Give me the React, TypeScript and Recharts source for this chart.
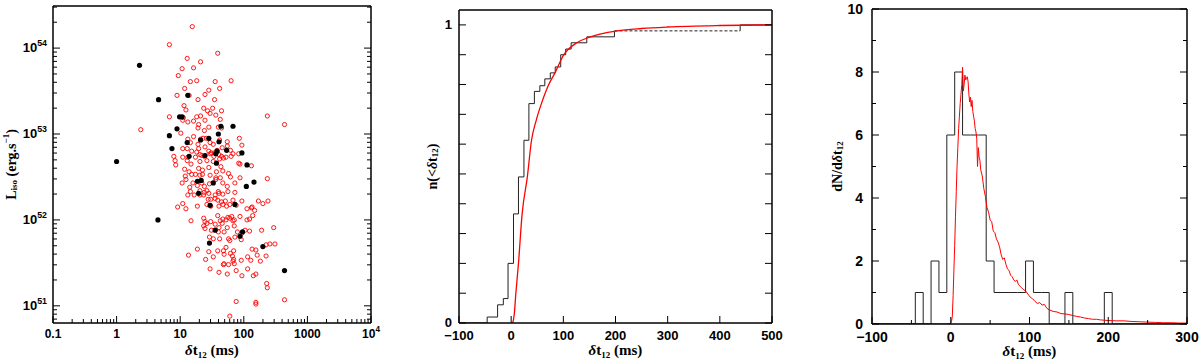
import React from 'react';
import { ComposedChart, Line, Scatter, XAxis, YAxis } from 'recharts';

// left panel, log10 of dt12 (ms) and log10 of L_iso (erg/s)
const blackBursts = [
  [0.36, 53.8], [0.66, 53.4], [0, 52.68], [0.65, 52.0], [0.83, 52.98], [0.87, 52.83],
  [0.95, 53.06], [0.99, 53.2], [1.03, 53.2], [1.12, 53.45], [1.11, 52.9], [1.14, 52.74],
  [1.32, 52.93], [1.45, 52.95], [1.39, 52.75], [1.6, 53.0], [1.64, 53.09], [1.83, 53.09],
  [1.61, 52.91], [1.58, 52.8], [1.56, 52.77], [1.57, 52.66], [1.73, 52.81], [1.97, 52.78],
  [2.05, 52.64], [2.16, 52.44], [2.04, 52.39], [1.27, 52.45], [1.33, 52.46], [1.52, 52.43],
  [1.29, 52.31], [1.47, 52.17], [1.86, 52.18], [1.55, 51.88], [1.98, 51.86], [1.94, 51.81],
  [1.46, 51.73], [2.3, 51.69], [2.64, 51.41],
];

const redBursts = [
  [1.19, 54.25], [0.83, 54.04], [1.59, 53.94], [1.11, 53.88], [1.32, 53.84], [1.03, 53.76],
  [1.21, 53.77], [0.97, 53.68], [1.8, 53.62], [1.16, 53.61], [1.26, 53.62], [1.55, 53.61],
  [1.62, 53.53], [1.07, 53.53], [1.39, 53.46], [1.45, 53.51], [0.95, 53.45], [1.14, 53.45],
  [1.28, 53.4], [1.54, 53.4], [1.06, 53.33], [1.37, 53.3], [1.51, 53.3], [1.09, 53.28],
  [0.83, 53.2], [1.26, 53.2], [1.32, 53.21], [1.43, 53.27], [1.47, 53.24], [1.56, 53.22],
  [1.65, 53.27], [1.63, 53.17], [2.37, 53.21], [0.38, 53.05], [2.64, 53.11], [1.05, 53.19],
  [1.04, 53.16], [1.12, 53.14], [1.21, 53.15], [1.29, 53.11], [1.39, 53.16], [1.45, 53.08],
  [1.28, 53.07], [1.6, 53.08], [1.65, 53.07], [1.01, 53.01], [1.38, 53.04], [1.12, 52.94],
  [1.21, 52.97], [1.32, 52.94], [1.36, 52.95], [1.41, 52.95], [1.47, 52.9], [1.52, 52.88],
  [1.62, 52.93], [1.74, 52.91], [1.74, 52.86], [1.93, 52.95], [1.97, 52.87], [1.16, 52.9],
  [1.28, 52.88], [1.39, 52.85], [1.04, 52.83], [1.11, 52.83], [1.18, 52.8], [1.26, 52.79],
  [1.29, 52.83], [1.45, 52.8], [1.49, 52.78], [1.54, 52.78], [1.58, 52.81], [1.66, 52.84],
  [1.79, 52.81], [1.83, 52.77], [1.92, 52.77], [0.9, 52.74], [1.04, 52.73], [1.12, 52.73],
  [1.24, 52.73], [1.31, 52.76], [1.34, 52.75], [1.38, 52.74], [1.47, 52.77], [1.53, 52.74],
  [1.61, 52.76], [1.65, 52.74], [1.72, 52.73], [1.8, 52.74], [0.92, 52.69], [0.93, 52.64],
  [1.11, 52.69], [1.17, 52.65], [1.31, 52.68], [1.42, 52.69], [1.52, 52.68], [1.62, 52.71],
  [1.68, 52.72], [1.92, 52.66], [1.94, 52.65], [2.12, 52.63], [1.07, 52.59], [1.14, 52.56],
  [1.29, 52.6], [1.35, 52.58], [1.45, 52.61], [1.57, 52.56], [1.64, 52.62], [1.67, 52.57],
  [1.76, 52.54], [1.79, 52.5], [1.94, 52.49], [2.37, 52.48], [1.08, 52.51], [1.09, 52.47],
  [1.18, 52.53], [1.24, 52.53], [1.31, 52.52], [1.35, 52.53], [1.47, 52.52], [1.56, 52.49],
  [1.63, 52.49], [1.03, 52.43], [1.2, 52.43], [1.27, 52.4], [1.34, 52.43], [1.38, 52.39],
  [1.46, 52.42], [1.56, 52.47], [1.67, 52.43], [1.74, 52.39], [1.86, 52.43], [1.15, 52.38],
  [1.16, 52.33], [1.31, 52.34], [1.38, 52.32], [1.42, 52.34], [1.45, 52.31], [1.55, 52.29],
  [1.6, 52.33], [1.61, 52.31], [1.67, 52.3], [1.75, 52.33], [1.86, 52.32], [1.04, 52.19],
  [1.09, 52.13], [1.12, 52.29], [1.22, 52.29], [1.31, 52.29], [1.37, 52.29], [1.44, 52.24],
  [1.48, 52.24], [1.55, 52.25], [1.59, 52.23], [1.65, 52.21], [1.71, 52.22], [1.83, 52.23],
  [1.97, 52.22], [2.13, 52.15], [2.23, 52.22], [2.3, 52.19], [2.38, 52.22], [0.96, 52.15],
  [1.27, 52.16], [1.42, 52.18], [1.48, 52.16], [1.61, 52.16], [1.67, 52.18], [1.73, 52.16],
  [1.78, 52.18], [1.88, 52.17], [2.05, 52.13], [2.12, 52.14], [1.17, 51.99], [1.37, 52.02],
  [1.39, 51.98], [1.42, 51.96], [1.48, 51.98], [1.59, 52.05], [1.63, 51.99], [1.67, 52.01],
  [1.72, 52.0], [1.75, 52.03], [1.78, 52.02], [1.81, 52.04], [1.83, 51.99], [1.85, 52.0],
  [1.94, 52.04], [2.05, 52.0], [2.09, 52.01], [2.14, 52.05], [2.17, 52.11], [2.28, 51.88],
  [2.47, 51.91], [1.37, 51.93], [1.39, 51.9], [1.49, 51.88], [1.55, 51.95], [1.61, 51.91],
  [1.66, 51.96], [1.74, 51.91], [1.85, 51.93], [1.9, 51.86], [1.96, 51.84], [2.02, 51.88],
  [1.46, 51.8], [1.52, 51.78], [1.62, 51.78], [1.76, 51.78], [1.78, 51.76], [1.86, 51.8],
  [1.96, 51.77], [2.09, 51.87], [1.6, 51.86], [1.69, 51.86], [1.27, 51.66], [1.13, 51.59],
  [1.4, 51.54], [1.45, 51.63], [1.52, 51.57], [1.59, 51.64], [1.68, 51.64], [1.72, 51.68],
  [1.79, 51.61], [1.84, 51.64], [2.06, 51.57], [2.13, 51.66], [2.19, 51.65], [2.21, 51.59],
  [2.41, 51.72], [2.35, 51.71], [2.49, 51.72], [1.82, 51.58], [1.69, 51.6], [1.84, 51.54],
  [1.96, 51.53], [2.11, 51.53], [2.26, 51.52], [2.35, 51.58], [1.69, 51.49], [1.76, 51.48],
  [1.85, 51.49], [1.83, 51.52], [1.47, 51.43], [1.61, 51.39], [1.68, 51.48], [1.74, 51.37],
  [1.88, 51.41], [2.06, 51.43], [2.15, 51.35], [2.19, 51.37], [1.97, 51.35], [2.36, 51.26],
  [2.37, 51.21], [1.88, 51.05], [2.19, 51.04], [2.19, 51.02], [2.64, 51.07], [1.78, 50.88],
];

// middle panel: cumulative fraction (last stretch at 0.98 is dashed in the original)
const cdfX = [-100, -46, -26, -15, -6, 4.5, 14, 24.5, 34, 44.5, 55, 64.5, 75, 84.5, 95, 104.5, 115, 145, 198];
const cdfY = [0, 0.02, 0.061, 0.082, 0.2, 0.366, 0.49, 0.613, 0.736, 0.777, 0.796, 0.819, 0.839, 0.859, 0.9, 0.919, 0.94, 0.96, 0.98];
const cdfTailX = [198, 439];
const cdfTailY = [0.98, 0.98];
const cdfLastX = [439, 439, 500];
const cdfLastY = [0.98, 1, 1];
const cdfModel = [
  [3, 0], [6, 0.03], [9, 0.1], [14, 0.2], [21, 0.366], [31, 0.49], [39, 0.613], [48, 0.68],
  [58, 0.736], [71, 0.796], [84, 0.839], [101, 0.9], [126, 0.94], [152, 0.96], [203, 0.98],
  [250, 0.988], [300, 0.993], [400, 0.998], [500, 1],
];

// right panel: histogram (10 ms bins) and model density
const histEdges = [-100, -45, -35, -25, -15, -5, 5, 15, 25, 35, 45, 55, 65, 75, 85, 95, 105, 115, 125, 135, 145, 155, 165, 175, 185, 195, 205, 300];
const histCounts = [0, 1, 0, 2, 1, 6, 8, 6, 6, 6, 2, 1, 1, 1, 1, 2, 1, 1, 0, 0, 1, 0, 0, 0, 0, 1, 0, 0];
const densityModel = [
  [-100, 0], [-80, 0.01], [-60, 0], [-40, 0.01], [-20, 0], [-5, 0], [0, 0.02], [1, 0.08],
  [2, 0.25], [3, 0.9], [4, 1.7], [5, 2.5], [6, 3.4], [7, 4.2], [8, 5.0], [9, 5.6], [10, 6.2],
  [11, 6.6], [12, 7.0], [13, 7.3], [14, 7.6], [15, 8.15], [16, 7.4], [17, 7.6], [18, 7.9],
  [19, 7.75], [20, 7.8], [21, 7.85], [22, 7.7], [23, 7.3], [24, 7.05], [25, 7.2], [26, 6.9],
  [27, 7.1], [28, 6.75], [29, 6.6], [30, 6.45], [31, 6.2], [32, 6.1], [33, 5.9], [34, 5.0],
  [35, 5.6], [36, 5.3], [37, 5.2], [38, 4.9], [40, 4.7], [42, 4.3], [44, 4.05], [46, 3.7],
  [48, 3.55], [50, 3.3], [52, 3.25], [54, 2.95], [56, 2.9], [58, 2.7], [60, 2.6], [62, 2.45],
  [64, 2.2], [66, 2.05], [68, 2.1], [70, 1.9], [72, 1.75], [74, 1.7], [76, 1.55], [78, 1.5],
  [80, 1.4], [82, 1.35], [84, 1.4], [86, 1.25], [88, 1.2], [90, 1.15], [92, 1.1], [95, 1.05],
  [98, 0.95], [101, 0.85], [104, 0.8], [107, 0.72], [110, 0.65], [113, 0.68], [116, 0.6],
  [119, 0.62], [122, 0.5], [125, 0.45], [130, 0.4], [135, 0.38], [140, 0.33], [145, 0.32],
  [150, 0.3], [155, 0.27], [160, 0.24], [165, 0.22], [170, 0.19], [175, 0.17], [180, 0.15],
  [185, 0.15], [190, 0.13], [195, 0.12], [200, 0.11], [210, 0.1], [220, 0.1], [230, 0.08],
  [240, 0.07], [250, 0.06], [260, 0.05], [270, 0.04], [280, 0.04], [290, 0.03], [300, 0.03],
];

// ticks
const timeMajors = [-1, 0, 1, 2, 3, 4];
const timeLabels = ['0.1', '1', '10', '100', '1000', '10^4'];
const lumMajors = [51, 52, 53, 54];
const lumLabels = ['10^51', '10^52', '10^53', '10^54'];
const logMinor = (from: number, to: number) => {
  const out: number[] = [];
  for (let n = from; n < to; n++) for (let k = 2; k < 10; k++) out.push(n + Math.log10(k));
  return out;
};
const cdfXTicks = [-100, 0, 100, 200, 300, 400, 500];
const cdfYTicks = [0, 0.1, 0.2, 0.3, 0.4, 0.5, 0.6, 0.7, 0.8, 0.9, 1];
const histXTicks = [-100, -50, 0, 50, 100, 150, 200, 250, 300];
const histXMajors = [-100, 0, 100, 200, 300];
const histYTicks = [0, 1, 2, 3, 4, 5, 6, 7, 8, 9, 10];
const histYMajors = [0, 2, 4, 6, 8, 10];

const TICK_FONT = '"Liberation Sans", Arial, sans-serif';
const TITLE_FONT = '"Liberation Serif", "Times New Roman", serif';

const toPts = (a: number[][]) => a.map(([x, y]) => ({ x, y }));
const zipPts = (xs: number[], ys: number[]) => xs.map((x, i) => ({ x, y: ys[i] }));

const fmt = (s: string, fs: number) => {
  const txt = s.replace('-', '\u2212');
  if (!txt.includes('^')) return txt;
  const [b, e] = txt.split('^');
  return (
    <>
      <tspan>{b}</tspan>
      <tspan dy={-6} fontSize={fs * 0.68}>{e}</tspan>
    </>
  );
};

type TickOpts = {
  side: 'bottom' | 'top' | 'left' | 'right';
  majors: number[];
  labels?: Record<string, string>;
  majorLen: number;
  minorLen: number;
  fs?: number;
  gap?: number;
};

const tickRenderer = (o: TickOpts) => (p: any) => {
  const v = p.payload.value;
  const { x, y } = p;
  const major = o.majors.some((m) => Math.abs(m - v) < 1e-6);
  const len = major ? o.majorLen : o.minorLen;
  let line;
  if (o.side === 'bottom') line = <line x1={x} x2={x} y1={y} y2={y - len} stroke="#000" />;
  else if (o.side === 'top') line = <line x1={x} x2={x} y1={y} y2={y + len} stroke="#000" />;
  else if (o.side === 'left') line = <line x1={x} x2={x + len} y1={y} y2={y} stroke="#000" />;
  else line = <line x1={x} x2={x - len} y1={y} y2={y} stroke="#000" />;
  const key = Object.keys(o.labels || {}).find((k) => Math.abs(Number(k) - v) < 1e-6);
  let text = null;
  const fs = o.fs || 12;
  if (key !== undefined && o.labels) {
    const content = fmt(o.labels[key], fs);
    if (o.side === 'bottom')
      text = (
        <text x={x} y={y + (o.gap || 15)} textAnchor="middle" fontSize={fs} fontWeight="bold" fontFamily={TICK_FONT} fill="#000">
          {content}
        </text>
      );
    else if (o.side === 'left')
      text = (
        <text x={x - (o.gap || 6)} y={y + fs * 0.33} textAnchor="end" fontSize={fs} fontWeight="bold" fontFamily={TICK_FONT} fill="#000">
          {content}
        </text>
      );
  }
  return (
    <g>
      {line}
      {text}
    </g>
  );
};

const zip = (vals: number[], labels: string[]) => {
  const out: Record<string, string> = {};
  vals.forEach((v, i) => (out[String(v)] = labels[i]));
  return out;
};

const XTitle = ({ viewBox }: any) => (
  <text x={viewBox.x + viewBox.width / 2} y={viewBox.y + 32} textAnchor="middle" fontSize={15} fontWeight="bold" fontFamily={TITLE_FONT} fill="#000">
    <tspan fontStyle="italic">δ</tspan>
    <tspan>t</tspan>
    <tspan dy={3} fontSize={9}>12</tspan>
    <tspan dy={-3}> (ms)</tspan>
  </text>
);

const YTitle = ({ viewBox, off, children }: any) => {
  const cx = viewBox.x + viewBox.width - off;
  const cy = viewBox.y + viewBox.height / 2;
  return (
    <text x={cx} y={cy} transform={`rotate(-90 ${cx} ${cy})`} textAnchor="middle" dominantBaseline="central" fontSize={14} fontWeight="bold" fontFamily={TITLE_FONT} fill="#000">
      {children}
    </text>
  );
};

const axisLine = { stroke: '#000', strokeWidth: 1.5 };

// axes need a size of at least 1px or recharts skips drawing them
const Panel = ({ left, margin, xDomain, yDomain, xTicks, yTicks, xMajors, yMajors, xLabels, yLabels, xFs, yFs, xGap, yGap, yTitle, yOff, children }: any) => (
  <div style={{ position: 'absolute', left, top: 0 }}>
    <ComposedChart width={400} height={360}
      margin={{ top: margin.top - 1, right: margin.right - 1, bottom: margin.bottom - 1, left: margin.left - 1 }}>
      <XAxis xAxisId="b" dataKey="x" type="number" domain={xDomain} allowDataOverflow ticks={xTicks} interval={0} height={1}
        tickSize={0} tickMargin={0} tickLine={false} axisLine={axisLine}
        tick={tickRenderer({ side: 'bottom', majors: xMajors, labels: xLabels, majorLen: 7, minorLen: 4, fs: xFs, gap: xGap })}
        label={(p: any) => <XTitle {...p} />} />
      <XAxis xAxisId="t" orientation="top" type="number" domain={xDomain} allowDataOverflow ticks={xTicks} interval={0} height={1}
        tickSize={0} tickMargin={0} tickLine={false} axisLine={axisLine}
        tick={tickRenderer({ side: 'top', majors: xMajors, majorLen: 7, minorLen: 4 })} />
      <YAxis yAxisId="l" dataKey="y" type="number" domain={yDomain} allowDataOverflow ticks={yTicks} interval={0} width={1}
        tickSize={0} tickMargin={0} tickLine={false} axisLine={axisLine}
        tick={tickRenderer({ side: 'left', majors: yMajors, labels: yLabels, majorLen: 7, minorLen: 4, fs: yFs, gap: yGap })}
        label={(p: any) => <YTitle {...p} off={yOff}>{yTitle}</YTitle>} />
      <YAxis yAxisId="r" orientation="right" type="number" domain={yDomain} allowDataOverflow ticks={yTicks} interval={0} width={1}
        tickSize={0} tickMargin={0} tickLine={false} axisLine={axisLine}
        tick={tickRenderer({ side: 'right', majors: yMajors, majorLen: 7, minorLen: 4 })} />
      {children}
    </ComposedChart>
  </div>
);

const App = () => {
  const red = toPts(redBursts);
  const black = toPts(blackBursts);
  const hist = zipPts(histEdges, histCounts);

  return (
    <div style={{ position: 'absolute', left: 0, top: 0, width: 1200, height: 360, background: '#fff', overflow: 'hidden' }}>
      <Panel left={0} margin={{ top: 6, right: 29, bottom: 37, left: 53 }}
        xDomain={[-1, 4]} yDomain={[50.8, 54.49]}
        xTicks={[...timeMajors, ...logMinor(-1, 4)]} yTicks={[...lumMajors, ...logMinor(50, 55).filter((v) => v > 50.8 && v < 54.49)]}
        xMajors={timeMajors} yMajors={lumMajors} xLabels={zip(timeMajors, timeLabels)} yLabels={zip(lumMajors, lumLabels)}
        xFs={12} yFs={13} xGap={15} yGap={6} yOff={42}
        yTitle={<><tspan>L</tspan><tspan dy={3} fontSize={9}>iso</tspan><tspan dy={-3}> (erg.s</tspan><tspan dy={-5} fontSize={9}>−1</tspan><tspan dy={5}>)</tspan></>}>
        <Scatter xAxisId="b" yAxisId="l" data={red} isAnimationActive={false}
          shape={(p: any) => <circle cx={p.cx} cy={p.cy} r={2.1} fill="none" stroke="#ff0000" strokeWidth={0.9} />} />
        <Scatter xAxisId="b" yAxisId="l" data={black} isAnimationActive={false}
          shape={(p: any) => <circle cx={p.cx} cy={p.cy} r={2.6} fill="#000" />} />
      </Panel>

      <Panel left={400} margin={{ top: 10, right: 28, bottom: 37, left: 59 }}
        xDomain={[-100, 500]} yDomain={[0, 1.05]}
        xTicks={cdfXTicks} yTicks={cdfYTicks} xMajors={cdfXTicks} yMajors={cdfYTicks}
        xLabels={zip(cdfXTicks, cdfXTicks.map(String))} yLabels={{ 0: '0', 1: '1' }}
        xFs={13} yFs={13} xGap={17} yGap={7} yOff={27}
        yTitle={<><tspan>n(&lt;</tspan><tspan fontStyle="italic">δ</tspan><tspan>t</tspan><tspan dy={3} fontSize={9}>12</tspan><tspan dy={-3}>)</tspan></>}>
        <Line xAxisId="b" yAxisId="l" data={zipPts(cdfX, cdfY)} dataKey="y" type="stepAfter" stroke="#222" strokeWidth={1} dot={false} isAnimationActive={false} />
        <Line xAxisId="b" yAxisId="l" data={zipPts(cdfTailX, cdfTailY)} dataKey="y" type="linear" stroke="#222" strokeWidth={1} strokeDasharray="3 2" dot={false} isAnimationActive={false} />
        <Line xAxisId="b" yAxisId="l" data={zipPts(cdfLastX, cdfLastY)} dataKey="y" type="linear" stroke="#222" strokeWidth={1} dot={false} isAnimationActive={false} />
        <Line xAxisId="b" yAxisId="l" data={toPts(cdfModel)} dataKey="y" type="monotone" stroke="#ff0000" strokeWidth={1.3} dot={false} isAnimationActive={false} />
      </Panel>

      <Panel left={800} margin={{ top: 9, right: 13, bottom: 36, left: 72 }}
        xDomain={[-100, 300]} yDomain={[0, 10]}
        xTicks={histXTicks} yTicks={histYTicks} xMajors={histXMajors} yMajors={histYMajors}
        xLabels={zip(histXMajors, histXMajors.map(String))} yLabels={zip(histYMajors, histYMajors.map(String))}
        xFs={14} yFs={14} xGap={18} yGap={9} yOff={35}
        yTitle={<><tspan>dN/d</tspan><tspan fontStyle="italic">δ</tspan><tspan>t</tspan><tspan dy={3} fontSize={9}>12</tspan></>}>
        <Line xAxisId="b" yAxisId="l" data={hist} dataKey="y" type="stepAfter" stroke="#222" strokeWidth={1} dot={false} isAnimationActive={false} />
        <Line xAxisId="b" yAxisId="l" data={toPts(densityModel)} dataKey="y" type="linear" stroke="#ff0000" strokeWidth={1} dot={false} isAnimationActive={false} />
      </Panel>
    </div>
  );
};

export default App;
